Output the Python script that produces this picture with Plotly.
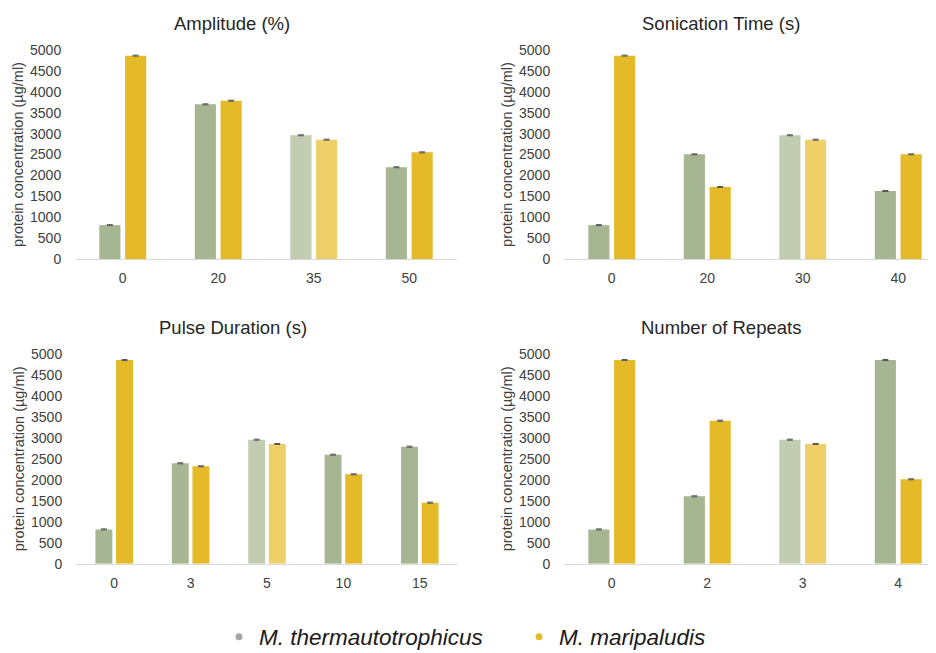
import plotly.graph_objects as go

# ---- data ----
amp_cats = ["0", "20", "35", "50"]
amp_mt = [810, 3700, 2960, 2195]
amp_mm = [4865, 3788, 2855, 2552]

son_cats = ["0", "20", "30", "40"]
son_mt = [810, 2504, 2960, 1627]
son_mm = [4865, 1722, 2855, 2504]

pul_cats = ["0", "3", "5", "10", "15"]
pul_mt = [818, 2394, 2957, 2599, 2790]
pul_mm = [4857, 2322, 2854, 2131, 1455]

rep_cats = ["0", "2", "3", "4"]
rep_mt = [818, 1607, 2957, 4857]
rep_mm = [4857, 3410, 2854, 2012]

err = 12  # tiny error bars
highlight_idx = 2  # optimal condition shown lighter

panel_titles = ["Amplitude (%)", "Sonication Time (s)", "Pulse Duration (s)", "Number of Repeats"]
series_names = ["M. thermautotrophicus", "M. maripaludis"]
y_title = "protein concentration (µg/ml)"
y_ticks = [0, 500, 1000, 1500, 2000, 2500, 3000, 3500, 4000, 4500, 5000]

# ---- style ----
GREEN, GREEN_L = "#a6b592", "#c2ccb1"
YELLOW, YELLOW_L = "#e5ba29", "#eecf68"
FONT = "Liberation Sans, Arial, sans-serif"
OFF = 8                      # page body margin
W, H = 936 - OFF, 653 - OFF  # figure size in page


def px(x):
    return (x - OFF) / W


def py(y):
    return 1 - (y - OFF) / H


panels = [
    (amp_cats, amp_mt, amp_mm),
    (son_cats, son_mt, son_mm),
    (pul_cats, pul_mt, pul_mm),
    (rep_cats, rep_mt, rep_mm),
]

# pixel geometry in screenshot coordinates: (x0, x1, y_base, y_top)
geom = [
    (75, 457, 259, 50),
    (564, 946, 259, 50),
    (76, 458, 563.7, 354),
    (564, 946, 563.7, 354),
]
title_pos = [(232, 23), (721, 23), (233, 327), (721, 327)]

fig = go.Figure()

for i, (cats, mt, mm) in enumerate(panels):
    n = len(cats)
    xa = "x" if i == 0 else f"x{i+1}"
    ya = "y" if i == 0 else f"y{i+1}"
    cg = [GREEN_L if k == highlight_idx else GREEN for k in range(n)]
    cy = [YELLOW_L if k == highlight_idx else YELLOW for k in range(n)]
    for vals, cols, name in ((mt, cg, series_names[0]), (mm, cy, series_names[1])):
        fig.add_trace(go.Bar(
            x=cats, y=vals, name=name, marker=dict(color=cols, line=dict(width=0)),
            error_y=dict(type="constant", value=err, color="#595959", thickness=1, width=3),
            xaxis=xa, yaxis=ya, showlegend=False, offsetgroup=name,
        ))
    x0, x1, yb, yt = geom[i]
    dom_x1 = min(x1, 936)
    cat_w = (x1 - x0) / n
    rng_hi = n - 0.5 - (x1 - dom_x1) / cat_w
    xkey = "xaxis" if i == 0 else f"xaxis{i+1}"
    ykey = "yaxis" if i == 0 else f"yaxis{i+1}"
    fig.update_layout(**{
        xkey: dict(domain=[px(x0), min(px(dom_x1), 1)], anchor=ya, type="category",
                   range=[-0.5, rng_hi], showline=True, linecolor="#d9d9d9", linewidth=1,
                   ticks="outside", ticklen=6, tickcolor="rgba(0,0,0,0)",
                   tickfont=dict(size=14, color="#404040", family=FONT),
                   showgrid=False, zeroline=False, fixedrange=True, automargin=False),
        ykey: dict(domain=[py(yb), py(yt)], anchor=xa, range=[0, 5000],
                   tickvals=y_ticks, ticks="outside", ticklen=10, tickcolor="rgba(0,0,0,0)",
                   tickfont=dict(size=14, color="#404040", family=FONT),
                   showgrid=False, zeroline=False, showline=False, automargin=False,
                   title=dict(text=y_title, font=dict(size=14.5, color="#404040", family=FONT), standoff=2)),
    })
    tx, ty = title_pos[i]
    fig.add_annotation(text=panel_titles[i], x=px(tx), y=py(ty), xref="paper", yref="paper",
                       showarrow=False, xanchor="center", yanchor="middle",
                       font=dict(size=18.5, color="#262626", family=FONT))

# legend entries as dots
for name, col in ((series_names[0], "#a6a6a6"), (series_names[1], YELLOW)):
    fig.add_trace(go.Scatter(x=[None], y=[None], mode="markers", name="<i>" + name + "</i>",
                             marker=dict(color=col, size=7), xaxis="x", yaxis="y"))

fig.update_layout(
    width=W, height=H, margin=dict(l=0, r=0, t=0, b=0, autoexpand=False),
    paper_bgcolor="white", plot_bgcolor="white",
    barmode="group", bargap=0.46, bargroupgap=0.18,
    legend=dict(orientation="h", x=px(219), xanchor="left", y=py(637), yanchor="middle",
                font=dict(size=22.5, family=FONT, color="#1a1a1a"), itemwidth=30,
                entrywidthmode="pixels", entrywidth=255),
    font=dict(family=FONT),
)

fig.write_html("out.html")
